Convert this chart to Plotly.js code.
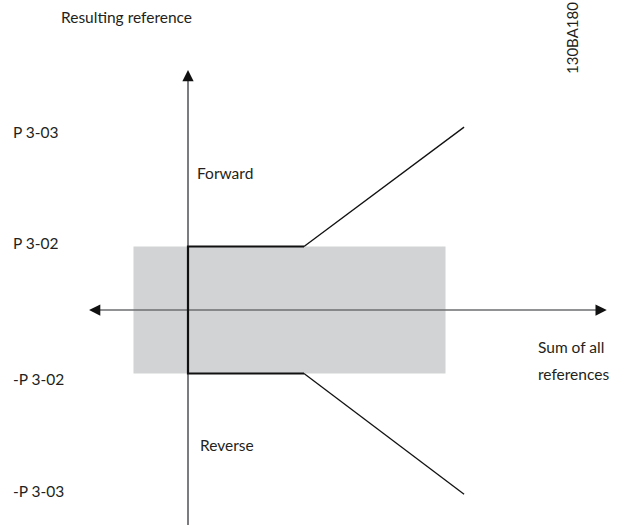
<!DOCTYPE html>
<html>
<head>
<meta charset="utf-8">
<script src="https://cdn.plot.ly/plotly-3.0.1.min.js"></script>
<style>html,body{margin:0;padding:0;background:#fff}#chart{width:623px;height:525px}</style>
</head>
<body>
<div id="chart"></div>
<script>
// Level values (reference units; P 3-02 = 1)
const levelValues = [2.88, 1, -1, -2.9];
const levelLabels = ['P 3-03', 'P 3-02', '-P 3-02', '-P 3-03'];
const labelShift = [-5, 4, -5, 3];

// Forward branch: clamp at P 3-02 then ramp to P 3-03
const fwdClampX = [0, 0, 1];
const fwdClampY = [0, 1, 1];
const fwdRampX = [1, 2.38];
const fwdRampY = [1, 2.88];
// Reverse branch
const revClampX = [0, 0, 1];
const revClampY = [0, -1, -1];
const revRampX = [1, 2.38];
const revRampY = [-1, -2.9];

// Shaded dead-band region
const bandX = [-0.47, 2.22];
const bandY = [-1, 1];

// Axis extents
const axisLeft = -0.853, axisRight = 3.61, axisTop = 3.78, axisBottom = -3.6;

const W = 623, H = 525;
const px = (x) => x / W;
const py = (y) => 1 - y / H;

const font = {family: 'Lato, "Open Sans", sans-serif', size: 15.5, color: '#231f20'};

const axisColor = '#6d6e71';
const traces = [
  {x: [axisLeft + 0.05, axisRight - 0.05], y: [0, 0], mode: 'lines', line: {color: axisColor, width: 1.6}, hoverinfo: 'skip'},
  {x: [0, 0], y: [axisBottom, axisTop - 0.1], mode: 'lines', line: {color: axisColor, width: 1.8}, hoverinfo: 'skip'},
  {x: fwdClampX, y: fwdClampY, mode: 'lines', line: {color: '#111', width: 2.2}, hoverinfo: 'skip'},
  {x: revClampX, y: revClampY, mode: 'lines', line: {color: '#111', width: 2.2}, hoverinfo: 'skip'},
  {x: fwdRampX, y: fwdRampY, mode: 'lines', line: {color: '#111', width: 1.3}, hoverinfo: 'skip'},
  {x: revRampX, y: revRampY, mode: 'lines', line: {color: '#111', width: 1.3}, hoverinfo: 'skip'}
];

const annotations = [];
// axis arrowheads (short black arrows over the gray axis lines)
const arrowStyle = {showarrow: true, arrowhead: 2, arrowsize: 1.5, arrowwidth: 1.5, arrowcolor: '#111', axref: 'pixel', ayref: 'pixel', text: '', standoff: 0, startstandoff: 0};
annotations.push(Object.assign({x: axisLeft, y: 0, ax: 12, ay: 0}, arrowStyle));
annotations.push(Object.assign({x: axisRight, y: 0, ax: -12, ay: 0}, arrowStyle));
annotations.push(Object.assign({x: 0, y: axisTop, ax: 0, ay: 12}, arrowStyle));

// level labels
levelValues.forEach((v, i) => {
  annotations.push({xref: 'paper', yref: 'y', x: px(11), y: v, yshift: labelShift[i], text: levelLabels[i], showarrow: false, xanchor: 'left', yanchor: 'middle', font: font});
});

annotations.push({xref: 'paper', yref: 'paper', x: px(59), y: py(17), text: 'Resulting reference', showarrow: false, xanchor: 'left', yanchor: 'middle', font: font});
annotations.push({xref: 'paper', yref: 'paper', x: px(195), y: py(173), text: 'Forward', showarrow: false, xanchor: 'left', yanchor: 'middle', font: font});
annotations.push({xref: 'paper', yref: 'paper', x: px(198), y: py(445), text: 'Reverse', showarrow: false, xanchor: 'left', yanchor: 'middle', font: font});
annotations.push({xref: 'paper', yref: 'paper', x: px(536), y: py(347), text: 'Sum of all', showarrow: false, xanchor: 'left', yanchor: 'middle', font: font});
annotations.push({xref: 'paper', yref: 'paper', x: px(536), y: py(374), text: 'references', showarrow: false, xanchor: 'left', yanchor: 'middle', font: font});
annotations.push({xref: 'paper', yref: 'paper', x: px(572), y: py(0), text: '130BA180', textangle: -90, showarrow: false, xanchor: 'center', yanchor: 'top', font: Object.assign({}, font, {size: 15})});

const layout = {
  width: W, height: H,
  margin: {l: 0, r: 0, t: 0, b: 0},
  paper_bgcolor: '#fff', plot_bgcolor: '#fff',
  showlegend: false,
  xaxis: {range: [-188 / 116, (W - 188) / 116], visible: false, fixedrange: true},
  yaxis: {range: [(310 - H) / 63.5, 310 / 63.5], visible: false, fixedrange: true},
  shapes: [
    {type: 'rect', xref: 'x', yref: 'y', x0: bandX[0], x1: bandX[1], y0: bandY[0], y1: bandY[1], fillcolor: '#d1d3d4', line: {width: 0}, layer: 'below'}
  ],
  annotations: annotations
};

Plotly.newPlot('chart', traces, layout, {staticPlot: true, displayModeBar: false});
</script>
</body>
</html>
